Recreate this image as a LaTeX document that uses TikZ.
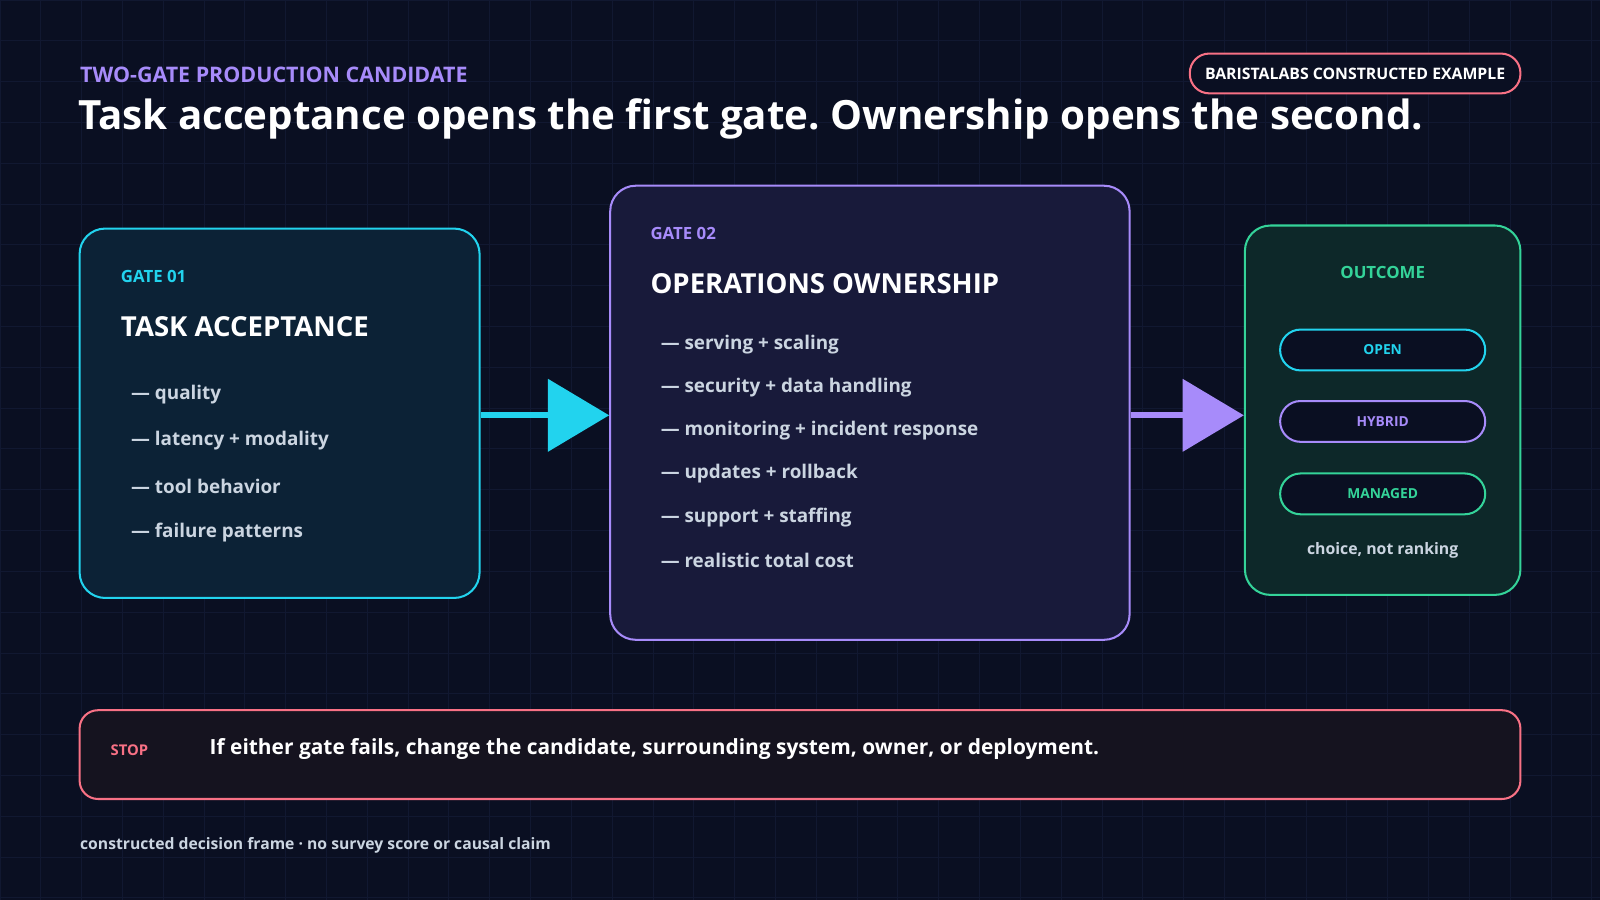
\documentclass[tikz,border=0pt]{standalone}
\usepackage{fontspec}
\setmainfont{Open Sans}
\usetikzlibrary{arrows.meta, positioning}
\definecolor{bgc}{HTML}{0A0F22}
\definecolor{gridc}{HTML}{111831}
\definecolor{cyanc}{HTML}{22D3EE}
\definecolor{purc}{HTML}{A78BFA}
\definecolor{grnc}{HTML}{34D399}
\definecolor{pinkc}{HTML}{F87185}
\definecolor{txtc}{HTML}{CBD5E1}
\definecolor{fillone}{HTML}{0C2236}
\definecolor{filltwo}{HTML}{181A3A}
\definecolor{fillout}{HTML}{0D2829}
\definecolor{fillstop}{HTML}{15131F}
\newcommand{\fs}[1]{\fontsize{#1}{#1}\selectfont\bfseries}
\frenchspacing

\begin{document}
\begin{tikzpicture}[x=1pt, y=-1pt,
    box/.style={draw, line width=2pt, rounded corners=25pt, inner sep=0pt},
    pill/.style={draw, line width=2pt, rounded corners=20pt, fill=bgc, minimum width=201pt, minimum height=40pt, font=\fs{13.5}},
    item/.style={anchor=west, text=txtc, font=\fs{18.5}},
    kicker/.style={anchor=west, font=\fs{16.5}},
    head/.style={anchor=west, text=white, font=\fs{27}},
    flow/.style={line width=6pt, -{Triangle[length=60pt, width=70pt]}}]

    % background and grid
    \fill[bgc] (0,0) rectangle (1568,882);
    \useasboundingbox (0,0) rectangle (1568,882);
    \foreach \i in {0,40,...,1560}
        \draw[gridc, line width=1pt] (\i,0) -- (\i,882);
    \foreach \j in {0,40,...,880}
        \draw[gridc, line width=1pt] (0,\j) -- (1568,\j);

    % header
    \node[anchor=west, text=purc, font=\fs{21}] (kick) at (75,73) {TWO-GATE PRODUCTION CANDIDATE};
    \node[anchor=west, text=white, font=\fs{39.5}] (title) at (73,117) {Task acceptance opens the first gate. Ownership opens the second.};
    \node[box, draw=pinkc, fill=bgc, rounded corners=19pt, minimum width=324pt, minimum height=39pt, text=white, font=\fs{15.5}] (badge) at (1328,72) {BARISTALABS CONSTRUCTED EXAMPLE};

    % boxes
    \node[box, draw=cyanc, fill=fillone, minimum width=392pt, minimum height=362pt] (g1) at (274,405) {};
    \node[box, draw=purc, fill=filltwo, minimum width=509pt, minimum height=445pt] (g2) at (852.5,404.5) {};
    \node[box, draw=grnc, fill=fillout, minimum width=270pt, minimum height=362pt] (out) at (1355,402) {};

    \draw[flow, cyanc] (g1.east |- 0,407) -- (g2.west |- 0,407);
    \draw[flow, purc] (g2.east |- 0,407) -- (out.west |- 0,407);

    % gate 01
    \node[kicker, text=cyanc] (k1) at (115,271) {GATE 01};
    \node[head] (h1) at (115,320) {TASK ACCEPTANCE};
    \foreach \t [count=\n from 0] in {quality, latency + modality, tool behavior, failure patterns}
        \node[item] at (125,387+45*\n) {— \t};

    % gate 02
    \node[kicker, text=purc] (k2) at (634,229) {GATE 02};
    \node[head] (h2) at (634,278) {OPERATIONS OWNERSHIP};
    \foreach \t [count=\n from 0] in {serving + scaling, security + data handling, monitoring + incident response, updates + rollback, support + staffing, realistic total cost}
        \node[item] at (644,338+42.2*\n) {— \t};

    % outcome
    \node[text=grnc, font=\fs{16.5}] (k3) at (1355,267) {OUTCOME};
    \node[pill, draw=cyanc, text=cyanc] (open) at (1355,343) {OPEN};
    \node[pill, draw=purc, text=purc] (hyb) at (1355,413) {HYBRID};
    \node[pill, draw=grnc, text=grnc] (man) at (1355,484) {MANAGED};
    \node[text=txtc, font=\fs{15.5}] (note) at (1355,539) {choice, not ranking};

    % stop bar
    \node[box, draw=pinkc, fill=fillstop, rounded corners=18pt, minimum width=1412pt, minimum height=87pt] (stop) at (784,739.5) {};
    \node[anchor=west, text=pinkc, font=\fs{14.5}] (stopk) at (105,735) {STOP};
    \node[anchor=west, text=white, font=\fs{20.5}] (stopt) at (202,734) {If either gate fails, change the candidate, surrounding system, owner, or deployment.};

    % footer
    \node[anchor=west, text=txtc, font=\fs{15.4}] (foot) at (75,828) {constructed decision frame · no survey score or causal claim};

\end{tikzpicture}
\end{document}
